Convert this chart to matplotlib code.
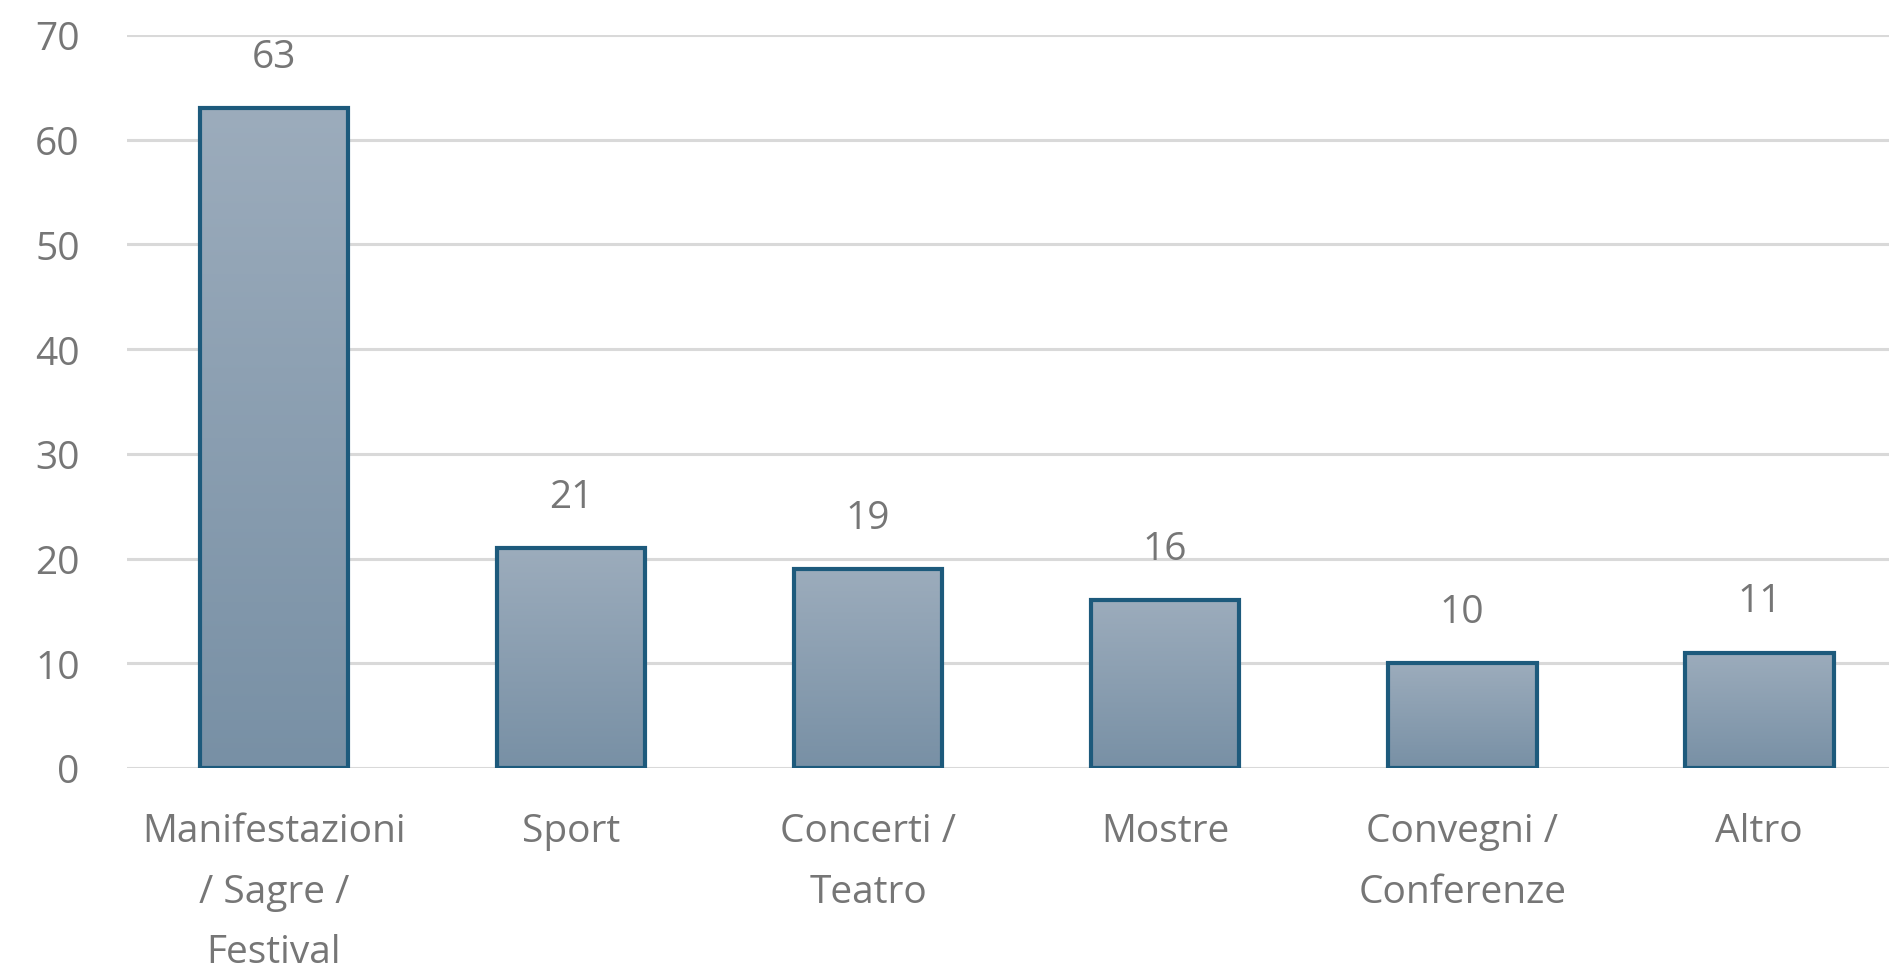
import matplotlib
matplotlib.use("Agg")
import matplotlib.pyplot as plt
import numpy as np
from matplotlib.colors import LinearSegmentedColormap

categories = ["Manifestazioni\n/ Sagre /\nFestival", "Sport", "Concerti /\nTeatro",
              "Mostre", "Convegni /\nConferenze", "Altro"]
values = [63, 21, 19, 16, 10, 11]
yticks = [0, 10, 20, 30, 40, 50, 60, 70]

plt.rcParams['font.family'] = ['Open Sans', 'DejaVu Sans']
text_color = '#767676'
fs = 28

fig = plt.figure(figsize=(18.9, 9.7), dpi=100)
ax = fig.add_axes([127/1890, 1 - 769/970, (1890-127)/1890, (769-36)/970])

x = np.arange(len(values))
bars = ax.bar(x, values, width=0.5, color='none', edgecolor='#1d5a7c', linewidth=3.0, zorder=3)

cmap = LinearSegmentedColormap.from_list('g', ['#7890a5', '#9cacbc'])
grad = np.linspace(0, 1, 256).reshape(-1, 1)
for b in bars:
    x0, y0 = b.get_x(), b.get_y()
    w, h = b.get_width(), b.get_height()
    im = ax.imshow(grad, cmap=cmap, extent=[x0, x0 + w, y0, y0 + h], origin='lower',
                   aspect='auto', zorder=2, interpolation='bicubic')
    im.set_clip_path(b)

for xi, v in zip(x, values):
    ax.annotate(str(v), (xi, v), xytext=(0, 37), textcoords='offset points',
                ha='center', va='center', fontsize=fs, color=text_color)

ax.set_xlim(-0.495, 5.44)
ax.set_ylim(0, 70)
ax.set_yticks(yticks)
ax.set_xticks(x)
ax.set_xticklabels(categories, fontsize=fs, color=text_color, linespacing=1.77, va='top')
ax.tick_params(axis='y', labelsize=fs, labelcolor=text_color, length=0, pad=34)
ax.tick_params(axis='x', length=0, pad=32)
for s in ax.spines.values():
    s.set_visible(False)
ax.yaxis.grid(True, color='#d9d9d9', linewidth=2.2, zorder=0)
ax.set_axisbelow(True)

fig.savefig('out.png', dpi=100)
